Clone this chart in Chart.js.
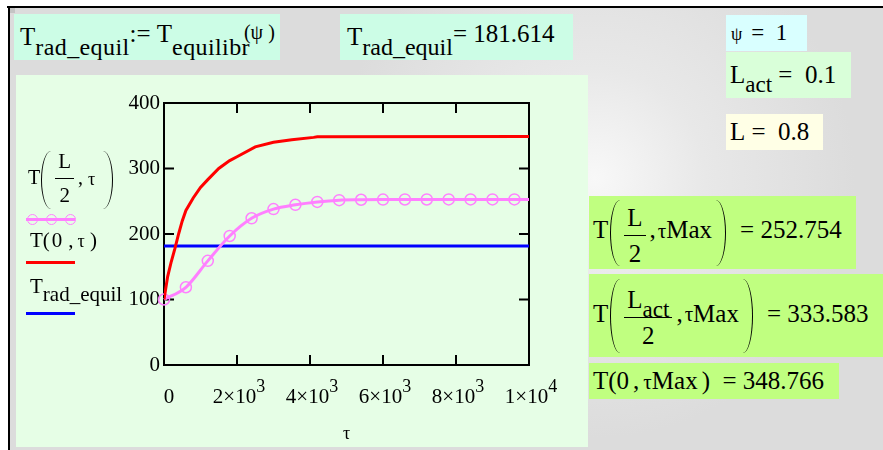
<!DOCTYPE html>
<html>
<head>
<meta charset="utf-8">
<script src="https://cdn.jsdelivr.net/npm/chart.js@4.4.1/dist/chart.umd.min.js"></script>
<style>
  body { margin: 0; width: 883px; height: 450px; overflow: hidden; background: #fff;
         font-family: "Liberation Serif", "Times New Roman", serif; color: #000; }
  #sheet { position: absolute; left: 10px; top: 8px; width: 873px; height: 442px;
           background: radial-gradient(circle at 585px 170px, #f8f8f8 0px, #e8e8e8 110px, #dcdcdc 260px); }
  #topline { position: absolute; left: 7px; top: 6px; width: 876px; height: 2px; background: #000; }
  #leftline { position: absolute; left: 8px; top: 6px; width: 2px; height: 444px; background: #000; }
  #corner { position: absolute; left: 10px; top: 8px; width: 5px; height: 5px; background: #c4c4c4; }
  .box { position: absolute; white-space: nowrap; display: flex; align-items: center; box-sizing: border-box; }
  .mint { background: #ccfde6; }
  .res { background: #c0ff80; font-size: 25px; padding-left: 4px; }
  sub { font-size: 0.92em; vertical-align: -0.4em; line-height: 0; }
  .pl, .pr { display: inline-block; width: 10px; border: 0 solid #000; box-sizing: border-box; vertical-align: middle; }
  .pl { border-left-width: 1.6px; border-radius: 100% 0 0 100% / 50% 0 0 50%; }
  .pr { border-right-width: 1.6px; border-radius: 0 100% 100% 0 / 0 50% 50% 0; }
  .frac { display: inline-flex; flex-direction: column; align-items: center; margin: 0 4px; line-height: 1.25; vertical-align: middle; }
  .frac .num { border-bottom: 1.4px solid #000; padding: 0 3px 2px 3px; }
  .frac .den { padding-top: 2px; }
  #plot { position: absolute; left: 16px; top: 75px; width: 572px; height: 372px; background: #e6fee6; }
  .leg { position: absolute; white-space: nowrap; font-size: 20px; }
  .swatch { position: absolute; left: 26px; width: 49px; height: 3px; }
  .mk { position: absolute; width: 11px; height: 11px; border: 1.5px solid #ff80ff; border-radius: 50%; box-sizing: border-box; }
</style>
</head>
<body>
<div id="sheet"></div>
<div id="topline"></div>
<div id="leftline"></div>
<div id="corner"></div>

<div class="box mint" style="left:14px; top:14px; width:266px; height:46px; font-size:25px; padding-left:6px;">
  <span>T<sub style="font-size:24px; letter-spacing:0.4px;">rad_equil</sub><span style="position:relative; top:-3px;">:=&nbsp;T</span><sub style="font-size:24px; letter-spacing:0.4px;">equilibr</sub><span style="font-size:20px; margin-left:-6px; position:relative; top:-6px;">(ψ&nbsp;)</span></span>
</div>
<div class="box mint" style="left:340px; top:14px; width:233px; height:46px; font-size:25px; padding-left:7px;">
  <span>T<sub style="font-size:24px;">rad_equil</sub><span style="position:relative; top:-3px;">= 181.614</span></span>
</div>

<div class="box" style="left:726px; top:15px; width:81px; height:36px; background:#d9ffff; font-size:23px; padding-left:5px;">
  <span><span style="font-size:18px; margin-right:9px;">ψ</span>=&nbsp; 1</span>
</div>
<div class="box" style="left:726px; top:52px; width:125px; height:46px; background:#d9ffd9; font-size:25px; padding-left:4px;">
  <span>L<sub>act</sub>&nbsp;=&nbsp; 0.1</span>
</div>
<div class="box" style="left:726px; top:114px; width:97px; height:36px; background:#ffffe6; font-size:25px; padding-left:4px;">
  <span>L&nbsp;=&nbsp; 0.8</span>
</div>

<div class="box res" style="left:589px; top:196px; width:267px; height:73px;">
  <span>T<span class="pl" style="height:66px; margin-left:2px;"></span><span class="frac" style="position:relative; top:3px;"><span class="num">L</span><span class="den">2</span></span>,<span style="font-size:21px; margin-left:2px;">τ</span>Max<span class="pr" style="height:66px; margin-left:4px; margin-right:14px;"></span>=&nbsp;252.754</span>
</div>
<div class="box res" style="left:589px; top:274px; width:294px; height:83px;">
  <span>T<span class="pl" style="height:74px; margin-left:2px;"></span><span class="frac" style="position:relative; top:2px;"><span class="num">L<sub>act</sub></span><span class="den">2</span></span>,<span style="font-size:21px; margin-left:2px;">τ</span>Max<span class="pr" style="height:74px; margin-left:4px; margin-right:14px;"></span>=&nbsp;333.583</span>
</div>
<div class="box res" style="left:589px; top:363px; width:250px; height:36px;">
  <span>T(0<span style="margin:0 4px;">,</span><span style="font-size:21px;">τ</span>Max<span style="margin-left:4px;">)</span>&nbsp;&nbsp;=&nbsp;348.766</span>
</div>

<div id="plot"><canvas id="chart" width="572" height="372"></canvas></div>

<!-- legend of the plot, as in the worksheet -->
<div class="leg" style="left:28px; top:150px; height:60px; display:flex; align-items:center;">
  <span>T<span class="pl" style="height:58px; margin-left:1px;"></span><span class="frac" style="font-size:21px; line-height:1.35; position:relative; top:-2px;"><span class="num">L</span><span class="den">2</span></span>,<span style="font-size:18px; margin-left:5px;">τ</span><span class="pr" style="height:58px; margin-left:8px;"></span></span>
</div>
<div class="swatch" style="top:218px; background:#ff80ff;"></div>
<div class="mk" style="left:27px; top:214px;"></div>
<div class="mk" style="left:46px; top:214px;"></div>
<div class="mk" style="left:65px; top:214px;"></div>
<div class="leg" style="left:30px; top:228px; font-size:21px;">T(<span style="margin:0 2px;">0</span><span style="margin:0 4px;">,</span><span style="font-size:18px;">τ</span>&nbsp;)</div>
<div class="swatch" style="top:261px; background:#ff0000;"></div>
<div class="leg" style="left:30px; top:274px; font-size:21px;">T<sub style="font-size:21px;">rad_equil</sub></div>
<div class="swatch" style="top:312px; background:#0000ff;"></div>

<script>
// tau (s) and temperatures
const tauSurface = [0, 100, 200, 300, 400, 500, 600, 800, 1000, 1200, 1500, 1800, 2000, 2500, 3000, 3500, 4100, 4200, 10000];
const tempSurface = [100, 135, 158, 178, 200, 220, 236, 255, 271, 283, 300, 312, 318, 333, 340, 344, 347.5, 348.5, 348.766];

const tauMid = [0, 600, 1200, 1800, 2400, 3000, 3600, 4200, 4800, 5400, 6000, 6600, 7200, 7800, 8400, 9000, 9600, 10000];
const tempMid = [100, 118.7, 159, 197, 224, 238, 244.6, 249, 251.7, 252.3, 252.6, 252.7, 252.7, 252.75, 252.75, 252.75, 252.75, 252.754];

const tauEquil = [0, 10000];
const tempEquil = [181.614, 181.614];

const xTicks = [0, 2000, 4000, 6000, 8000, 10000];
const yTicks = [0, 100, 200, 300, 400];

// mantissa and exponent of a tick, e.g. 2000 -> ['2×10', '3']
function sciParts(v) {
    if (v === 0) return ['0', ''];
    const e = Math.floor(Math.log10(v));
    const m = Math.round(v / Math.pow(10, e));
    return [m + '×10', String(e)];
}

function pts(xs, ys) {
    return xs.map((x, i) => ({ x: x, y: ys[i] }));
}

const tickFont = { family: 'Liberation Serif', size: 21 };

// box frame with inward ticks on all four sides (Mathcad style) + x labels with raised exponent
const frame = {
    id: 'frame',
    beforeDatasetsDraw(chart) {
        const { ctx, chartArea: a, scales: { x, y } } = chart;
        ctx.save();
        ctx.strokeStyle = '#000';
        ctx.lineWidth = 2;
        ctx.strokeRect(a.left, a.top, a.right - a.left, a.bottom - a.top);
        ctx.beginPath();
        xTicks.forEach(v => {
            const px = x.getPixelForValue(v);
            ctx.moveTo(px, a.bottom); ctx.lineTo(px, a.bottom - 10);
            ctx.moveTo(px, a.top); ctx.lineTo(px, a.top + 10);
        });
        yTicks.forEach(v => {
            const py = y.getPixelForValue(v);
            ctx.moveTo(a.left, py); ctx.lineTo(a.left + 10, py);
            ctx.moveTo(a.right, py); ctx.lineTo(a.right - 10, py);
        });
        ctx.stroke();

        ctx.fillStyle = '#000';
        ctx.textBaseline = 'alphabetic';
        ctx.textAlign = 'left';
        const base = a.bottom + 38;
        xTicks.forEach(v => {
            const [m, e] = sciParts(v);
            ctx.font = '21px "Liberation Serif"';
            const wm = ctx.measureText(m).width;
            ctx.font = '18px "Liberation Serif"';
            const we = e ? ctx.measureText(e).width : 0;
            const left = x.getPixelForValue(v) - (wm + we) / 2 + (v === 0 ? 5 : 2);
            ctx.font = '21px "Liberation Serif"';
            ctx.fillText(m, left, base);
            if (e) {
                ctx.font = '18px "Liberation Serif"';
                ctx.fillText(e, left + wm, base - 11);
            }
        });
        ctx.restore();
    }
};

new Chart(document.getElementById('chart'), {
    type: 'scatter',
    data: {
        datasets: [
            {
                label: 'T(0, τ)',
                data: pts(tauSurface, tempSurface),
                showLine: true,
                borderColor: '#ff0000',
                borderWidth: 3,
                pointRadius: 0
            },
            {
                label: 'T(L/2, τ)',
                data: pts(tauMid, tempMid),
                showLine: true,
                borderColor: '#ff80ff',
                borderWidth: 3,
                cubicInterpolationMode: 'monotone',
                pointStyle: 'circle',
                pointRadius: tauMid.map(t => t === 10000 ? 0 : 5.5),
                pointBorderWidth: 1.5,
                pointBorderColor: '#ff80ff',
                pointBackgroundColor: 'rgba(0,0,0,0)',
                clip: 8
            },
            {
                label: 'T rad_equil',
                data: pts(tauEquil, tempEquil),
                showLine: true,
                borderColor: '#0000ff',
                borderWidth: 3,
                pointRadius: 0
            }
        ]
    },
    options: {
        responsive: false,
        animation: false,
        devicePixelRatio: 1,
        layout: { padding: { left: 0, right: 59, top: 28, bottom: 0 } },
        plugins: { legend: { display: false }, tooltip: { enabled: false } },
        scales: {
            x: {
                type: 'linear',
                min: 0,
                max: 10000,
                afterBuildTicks: s => { s.ticks = xTicks.map(v => ({ value: v })); },
                afterFit: s => { s.height = 82; },
                ticks: { display: false },
                grid: { display: false, drawTicks: false },
                border: { display: false },
                title: { display: true, text: 'τ', color: '#000', font: { family: 'Liberation Serif', size: 18 }, padding: { top: 0, bottom: 2 } }
            },
            y: {
                min: 0,
                max: 400,
                afterBuildTicks: s => { s.ticks = yTicks.map(v => ({ value: v })); },
                afterFit: s => { s.width = 148; },
                ticks: { color: '#000', font: tickFont, padding: 4 },
                grid: { display: false, drawTicks: false },
                border: { display: false }
            }
        }
    },
    plugins: [frame]
});
</script>
</body>
</html>
